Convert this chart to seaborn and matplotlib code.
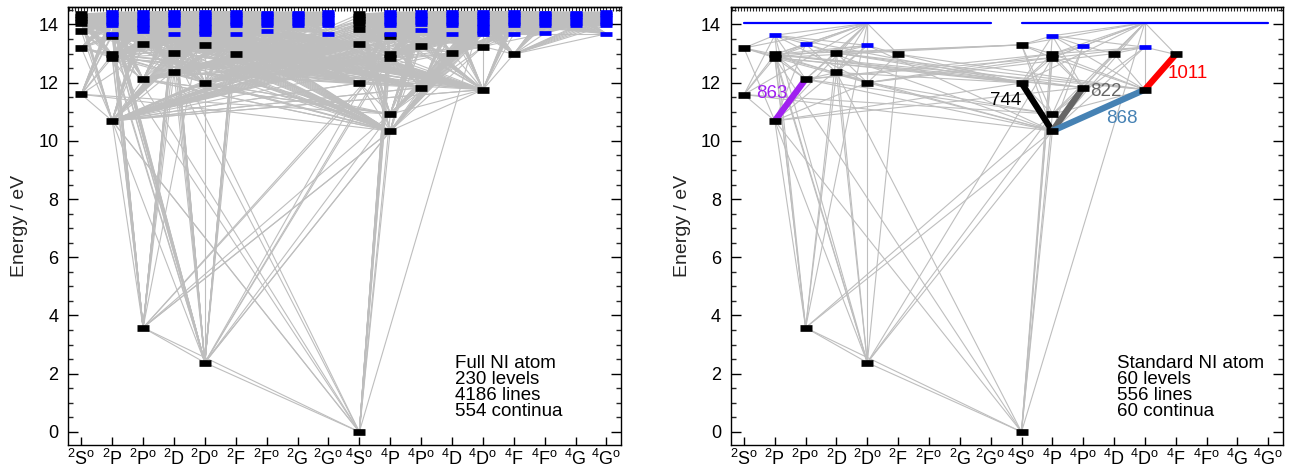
import matplotlib
matplotlib.use("Agg")
import matplotlib.pyplot as plt
from matplotlib.collections import LineCollection
from matplotlib.ticker import MultipleLocator
import pandas as pd
import seaborn as sns

# ---------------- data ----------------
TERMS = ["2So", "2P", "2Po", "2D", "2Do", "2F", "2Fo", "2G", "2Go",
         "4So", "4P", "4Po", "4D", "4Do", "4F", "4Fo", "4G", "4Go"]
TERM_LABELS = [r"$^{\rm 2}{\rm S}^{\rm o}$", r"$^{\rm 2}{\rm P}$", r"$^{\rm 2}{\rm P}^{\rm o}$",
               r"$^{\rm 2}{\rm D}$", r"$^{\rm 2}{\rm D}^{\rm o}$", r"$^{\rm 2}{\rm F}$",
               r"$^{\rm 2}{\rm F}^{\rm o}$", r"$^{\rm 2}{\rm G}$", r"$^{\rm 2}{\rm G}^{\rm o}$",
               r"$^{\rm 4}{\rm S}^{\rm o}$", r"$^{\rm 4}{\rm P}$", r"$^{\rm 4}{\rm P}^{\rm o}$",
               r"$^{\rm 4}{\rm D}$", r"$^{\rm 4}{\rm D}^{\rm o}$", r"$^{\rm 4}{\rm F}$",
               r"$^{\rm 4}{\rm F}^{\rm o}$", r"$^{\rm 4}{\rm G}$", r"$^{\rm 4}{\rm G}^{\rm o}$"]
DOUBLETS = TERMS[:9]
QUARTETS = TERMS[9:]

# Full N I atom (left panel): energies in eV
FULL_BLACK = {
    "2So": [11.60, 13.20, 13.77, 14.04, 14.14, 14.24, 14.36],
    "2P": [10.69, 12.86, 12.97, 13.62],
    "2Po": [3.58, 12.12, 13.34],
    "2D": [12.35, 13.03],
    "2Do": [2.38, 12.00, 13.29],
    "2F": [13.00],
    "4So": [0.00, 11.99, 13.34, 13.85, 14.06, 14.16, 14.26, 14.36],
    "4P": [10.34, 10.92, 12.86, 13.00, 13.59],
    "4Po": [11.83, 13.26],
    "4D": [13.02],
    "4Do": [11.76, 13.24],
    "4F": [12.98],
}
FULL_BLUE = {
    "2P": [13.68, 13.97, 14.05, 14.13, 14.21, 14.29, 14.36, 14.42],
    "2Po": [13.79, 13.87, 13.95, 14.03, 14.11, 14.19, 14.27, 14.35, 14.42],
    "2D": [13.68, 13.97, 14.05, 14.13, 14.21, 14.29, 14.36, 14.42],
    "2Do": [13.66, 13.74, 13.82, 13.90, 13.98, 14.06, 14.14, 14.22, 14.30, 14.36, 14.42],
    "2F": [13.68, 13.97, 14.05, 14.13, 14.21, 14.29, 14.36, 14.42],
    "2Fo": [13.76, 13.98, 14.06, 14.14, 14.22, 14.30, 14.36, 14.40],
    "2G": [13.98, 14.06, 14.14, 14.22, 14.30, 14.36, 14.40],
    "2Go": [13.68, 13.97, 14.05, 14.13, 14.21, 14.29, 14.36, 14.42],
    "4P": [13.68, 13.97, 14.05, 14.13, 14.21, 14.29, 14.36, 14.42],
    "4Po": [13.80, 14.02, 14.10, 14.18, 14.26, 14.33, 14.42],
    "4D": [13.68, 13.97, 14.05, 14.13, 14.21, 14.29, 14.36, 14.42],
    "4Do": [13.66, 13.74, 13.82, 13.90, 13.98, 14.06, 14.14, 14.22, 14.30, 14.36, 14.42],
    "4F": [13.68, 13.97, 14.05, 14.13, 14.21, 14.29, 14.36, 14.42],
    "4Fo": [13.69, 13.98, 14.06, 14.14, 14.22, 14.30, 14.36, 14.40],
    "4G": [13.98, 14.06, 14.14, 14.22, 14.30, 14.36, 14.40],
    "4Go": [13.68, 13.97, 14.05, 14.13, 14.21, 14.29, 14.36, 14.42],
}
FULL_ION = [14.45, 14.45]
FULL_LINKS = [
    ("2So", ["2P"]), ("2Po", ["2P", "2D"]), ("2Do", ["2P", "2D", "2F"]),
    ("2Fo", ["2D", "2F", "2G"]), ("2Go", ["2F", "2G"]),
    ("4So", ["4P"]), ("4Po", ["4P", "4D"]), ("4Do", ["4P", "4D", "4F"]),
    ("4Fo", ["4D", "4F", "4G"]), ("4Go", ["4F", "4G"]),
    ("4So#0", ["2Po#0", "2Do#0", "2P#0", "2P#1", "2D#0", "2D#1", "2P#3"]),
    ("2Po#0", ["2Do#0", "4P#0", "4P#1", "4P#2", "4P#3"]),
    ("2Do#0", ["4P#0", "4P#1", "4P#2", "4P#3", "4P#4"]),
    ("4So#1", ["2P", "2D", "2F"]),
    ("4P#0", ["2So", "2Po", "2Do"]),
    ("4P#1", ["2So#0", "2So#1", "2Po#1", "2Do#1"]),
    ("2P#0", ["4So", "4Po", "4Do"]),
    ("4Po#0", ["2P", "2D"]),
    ("4Do#0", ["2P", "2D", "2F"]),
    ("4So#2", ["2P", "2D"]),
    ("2Do#1", ["4P", "4D"]),
    ("2Po#1", ["4P", "4D"]),
]

# Standard N I atom (right panel)
STD_BLACK = {
    "2So": [11.59, 13.19],
    "2P": [10.69, 12.86, 12.97],
    "2Po": [3.58, 12.12],
    "2D": [12.35, 13.02],
    "2Do": [2.38, 12.00],
    "2F": [12.98],
    "4So": [0.00, 11.99, 13.30],
    "4P": [10.34, 10.92, 12.86, 12.99],
    "4Po": [11.83],
    "4D": [13.00],
    "4Do": [11.76],
    "4F": [12.97],
}
STD_BLUE = {"2P": [13.63], "2Po": [13.33], "2Do": [13.28],
            "4P": [13.61], "4Po": [13.26], "4Do": [13.22]}
STD_ION = [14.04, 14.06]
STD_LINKS = [
    ("2So", ["2P"]), ("2Po", ["2P", "2D"]), ("2Do", ["2P", "2D", "2F"]),
    ("4So", ["4P"]), ("4Po", ["4P", "4D"]), ("4Do", ["4P", "4D", "4F"]),
    ("4So#0", ["2Po#0", "2Do#0", "2P#0", "2D#0", "2P#1"]),
    ("2Po#0", ["2Do#0", "4P#0", "4P#1"]),
    ("2Do#0", ["4P#0", "4P#1", "4P#2"]),
    ("4So#1", ["2P#0", "2P#1", "2P#2", "2D#0", "2D#1", "2F#0", "2P#b0"]),
    ("4P#0", ["2So#0", "2So#1", "2Po#1", "2Do#1", "2Po#b0", "2Do#b0"]),
    ("4P#1", ["2So#0", "2Po#1", "2Do#1"]),
    ("4Po#0", ["2P#0", "2P#1", "2P#2", "2D#1"]),
    ("4Do#0", ["2P#2", "2D#1", "2F#0"]),
    ("4So#2", ["2P#1", "2P#2", "2D#1"]),
    ("2Po#1", ["4P#2", "4P#3"]),
    ("2Do#1", ["4P#2", "4P#3", "4D#0"]),
]
HL_LOWER = ["2P#0", "4P#0", "4P#0", "4P#0", "4Do#0"]
HL_UPPER = ["2Po#1", "4So#1", "4Po#0", "4Do#0", "4F#0"]
HL_LABELS = ["863", "744", "822", "868", "1011"]
HL_COLORS = ["#a020f0", "black", "#666666", "#4682b4", "red"]

FULL_TEXT = ["Full NI atom", "230 levels", "4186 lines", "554 continua"]
STD_TEXT = ["Standard NI atom", "60 levels", "556 lines", "60 continua"]

# ---------------- helpers ----------------
XPOS = {t: i for i, t in enumerate(TERMS)}


def resolve(black, blue, key):
    if "#" in key:
        t, i = key.split("#")
        if i.startswith("b"):
            return [(XPOS[t], blue[t][int(i[1:])])]
        return [(XPOS[t], black[t][int(i)])]
    return [(XPOS[key], e) for e in black.get(key, []) + blue.get(key, [])]


def segments(black, blue, links, ion):
    segs = []
    for src, tgts in links:
        for p in resolve(black, blue, src):
            for tg in tgts:
                for q in resolve(black, blue, tg):
                    segs.append([p, q])
    ion_pts = [(sum(XPOS[t] for t in DOUBLETS) / len(DOUBLETS), ion[0]),
               (sum(XPOS[t] for t in QUARTETS) / len(QUARTETS), ion[1])]
    for t in TERMS:
        pt = ion_pts[0] if t in DOUBLETS else ion_pts[1]
        for p in resolve(black, blue, t):
            segs.append([p, pt])
    return segs


def level_frame(d):
    rows = [(XPOS[t], e) for t, es in d.items() for e in es]
    return pd.DataFrame(rows, columns=["term", "energy"])


GRAY = "#bebebe"

# ---------------- figure ----------------
sns.set_theme(style="ticks")
plt.rcParams["font.family"] = ["Liberation Sans", "DejaVu Sans"]
plt.rcParams["mathtext.fontset"] = "custom"
plt.rcParams["mathtext.rm"] = "Liberation Sans"
plt.rcParams["mathtext.it"] = "Liberation Sans:italic"
plt.rcParams["mathtext.bf"] = "Liberation Sans:bold"

W, H = 1295, 474
fig = plt.figure(figsize=(W / 100, H / 100), dpi=100)
ax1 = fig.add_axes([68 / W, 1 - 445 / H, 553 / W, 438 / H])
ax2 = fig.add_axes([730.7 / W, 1 - 445 / H, 552 / W, 438 / H])


def draw_panel(ax, black, blue, links, ion, text, continuum_line):
    segs = segments(black, blue, links, ion)
    ax.add_collection(LineCollection(segs, colors=GRAY, linewidths=0.8, zorder=1))
    if continuum_line:
        for grp, e in zip([DOUBLETS, QUARTETS], ion):
            ax.plot([XPOS[grp[0]], XPOS[grp[-1]]], [e, e], color="blue", lw=1.6, zorder=2)
    # level marks: short thick horizontal bars
    sns.scatterplot(data=level_frame(black), x="term", y="energy", ax=ax,
                    marker="_", s=80, color="black", linewidth=4.8, zorder=3)
    sns.scatterplot(data=level_frame(blue), x="term", y="energy", ax=ax,
                    marker="_", s=80, color="blue", linewidth=3.4, zorder=3.5)
    ax.set_xlim(-0.43, 17.47)
    ax.set_ylim(-0.45, 14.6)
    ax.set_xticks(range(len(TERMS)))
    ax.set_xticklabels(TERM_LABELS)
    ax.set_xlabel("")
    ax.set_ylabel("Energy / eV", fontsize=14, labelpad=7)
    ax.yaxis.set_major_locator(MultipleLocator(2))
    ax.yaxis.set_minor_locator(MultipleLocator(0.5))
    ax.tick_params(axis="x", which="major", direction="in", length=6, width=1,
                   top=False, bottom=True, pad=3, labelsize=13, colors="black")
    ax.tick_params(axis="y", which="major", direction="in", length=7, width=1,
                   left=True, right=True, pad=7, labelsize=13, colors="black")
    ax.tick_params(axis="y", which="minor", direction="in", length=3.5, width=1,
                   left=True, right=True)
    for sp in ax.spines.values():
        sp.set_visible(True)
        sp.set_linewidth(1.0)
        sp.set_color("black")
    sec = ax.secondary_xaxis("top")
    sec.xaxis.set_major_locator(MultipleLocator(0.1))
    sec.tick_params(direction="in", length=3, width=0.8, labeltop=False)
    sec.spines["top"].set_linewidth(1.0)
    for k, line in enumerate(text):
        ax.text(0.70, 0.1765 - 0.0365 * k, line, transform=ax.transAxes,
                fontsize=13.5, ha="left", va="baseline", color="black")


draw_panel(ax1, FULL_BLACK, FULL_BLUE, FULL_LINKS, FULL_ION, FULL_TEXT, False)
draw_panel(ax2, STD_BLACK, STD_BLUE, STD_LINKS, STD_ION, STD_TEXT, True)

# highlighted transitions on the standard atom
label_offsets = [(-2, 4.5, "right"), (-11, 5, "right"), (16, 12.5, "left"),
                 (16.6, -5.9, "center"), (5, -0.7, "left")]
for lo, up, lab, col, (dx, dy, ha) in zip(HL_LOWER, HL_UPPER, HL_LABELS, HL_COLORS, label_offsets):
    p = resolve(STD_BLACK, STD_BLUE, lo)[0]
    q = resolve(STD_BLACK, STD_BLUE, up)[0]
    ax2.plot([p[0], q[0]], [p[1], q[1]], color=col, lw=4.5, solid_capstyle="butt", zorder=2.5)
    mx, my = (p[0] + q[0]) / 2, (p[1] + q[1]) / 2
    ax2.annotate(lab, (mx, my), xytext=(dx, dy), textcoords="offset points",
                 ha=ha, va="center", color=col, fontsize=13.5, zorder=5)

fig.savefig("out.png", dpi=100)
